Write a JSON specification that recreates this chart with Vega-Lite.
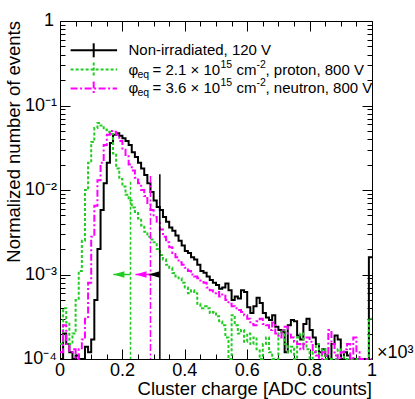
{
  "$schema": "https://vega.github.io/schema/vega-lite/v6.json",
  "width": 312,
  "height": 338,
  "autosize": {"type": "none"},
  "padding": {"left": 60, "top": 21, "right": 43, "bottom": 40},
  "background": "white",
  "config": {"view": {"stroke": null}, "font": "Liberation Sans"},
  "data": {"name": "dummy"},
  "datasets": {
    "dummy": [{"xv":0,"yv":1}],
    "hist": [
      {"s":"n","a":0,"b":0.01,"yv":0.00005},{"s":"n","a":0.01,"b":0.02,"yv":0.0002},{"s":"n","a":0.02,"b":0.03,"yv":0.00015},{"s":"n","a":0.03,"b":0.04,"yv":0.00012},{"s":"n","a":0.04,"b":0.05,"yv":0.00005},
      {"s":"n","a":0.05,"b":0.06,"yv":0.00011},{"s":"n","a":0.06,"b":0.07,"yv":0.00005},{"s":"n","a":0.07,"b":0.08,"yv":0.00005},{"s":"n","a":0.08,"b":0.09,"yv":0.00014},{"s":"n","a":0.09,"b":0.1,"yv":0.00012},
      {"s":"n","a":0.1,"b":0.11,"yv":0.00017},{"s":"n","a":0.11,"b":0.12,"yv":0.0005},{"s":"n","a":0.12,"b":0.13,"yv":0.002},{"s":"n","a":0.13,"b":0.14,"yv":0.0058},{"s":"n","a":0.14,"b":0.15,"yv":0.012},
      {"s":"n","a":0.15,"b":0.16,"yv":0.021},{"s":"n","a":0.16,"b":0.17,"yv":0.036},{"s":"n","a":0.17,"b":0.18,"yv":0.045},{"s":"n","a":0.18,"b":0.19,"yv":0.047},{"s":"n","a":0.19,"b":0.2,"yv":0.044},
      {"s":"n","a":0.2,"b":0.21,"yv":0.041},{"s":"n","a":0.21,"b":0.22,"yv":0.038},{"s":"n","a":0.22,"b":0.23,"yv":0.034},{"s":"n","a":0.23,"b":0.24,"yv":0.028},{"s":"n","a":0.24,"b":0.25,"yv":0.0245},
      {"s":"n","a":0.25,"b":0.26,"yv":0.021},{"s":"n","a":0.26,"b":0.27,"yv":0.018},{"s":"n","a":0.27,"b":0.28,"yv":0.015},{"s":"n","a":0.28,"b":0.29,"yv":0.012},{"s":"n","a":0.29,"b":0.3,"yv":0.0095},
      {"s":"n","a":0.3,"b":0.31,"yv":0.0075},{"s":"n","a":0.31,"b":0.32,"yv":0.0063},{"s":"n","a":0.32,"b":0.33,"yv":0.0058},{"s":"n","a":0.33,"b":0.34,"yv":0.0048},{"s":"n","a":0.34,"b":0.35,"yv":0.0042},
      {"s":"n","a":0.35,"b":0.36,"yv":0.0036},{"s":"n","a":0.36,"b":0.37,"yv":0.0033},{"s":"n","a":0.37,"b":0.38,"yv":0.0029},{"s":"n","a":0.38,"b":0.39,"yv":0.0025},{"s":"n","a":0.39,"b":0.4,"yv":0.0022},
      {"s":"n","a":0.4,"b":0.41,"yv":0.0019},{"s":"n","a":0.41,"b":0.42,"yv":0.0018},{"s":"n","a":0.42,"b":0.43,"yv":0.0016},{"s":"n","a":0.43,"b":0.44,"yv":0.0015},{"s":"n","a":0.44,"b":0.45,"yv":0.0013},
      {"s":"n","a":0.45,"b":0.46,"yv":0.0011},{"s":"n","a":0.46,"b":0.47,"yv":0.00105},{"s":"n","a":0.47,"b":0.48,"yv":0.00095},{"s":"n","a":0.48,"b":0.49,"yv":0.00086},{"s":"n","a":0.49,"b":0.5,"yv":0.0008},
      {"s":"n","a":0.5,"b":0.51,"yv":0.00075},{"s":"n","a":0.51,"b":0.52,"yv":0.00068},{"s":"n","a":0.52,"b":0.53,"yv":0.0007},{"s":"n","a":0.53,"b":0.54,"yv":0.00078},{"s":"n","a":0.54,"b":0.55,"yv":0.00065},
      {"s":"n","a":0.55,"b":0.56,"yv":0.0005},{"s":"n","a":0.56,"b":0.57,"yv":0.00055},{"s":"n","a":0.57,"b":0.58,"yv":0.00052},{"s":"n","a":0.58,"b":0.59,"yv":0.00065},{"s":"n","a":0.59,"b":0.6,"yv":0.00062},
      {"s":"n","a":0.6,"b":0.61,"yv":0.00041},{"s":"n","a":0.61,"b":0.62,"yv":0.00035},{"s":"n","a":0.62,"b":0.63,"yv":0.00042},{"s":"n","a":0.63,"b":0.64,"yv":0.00053},{"s":"n","a":0.64,"b":0.65,"yv":0.00046},
      {"s":"n","a":0.65,"b":0.66,"yv":0.00035},{"s":"n","a":0.66,"b":0.67,"yv":0.00031},{"s":"n","a":0.67,"b":0.68,"yv":0.00029},{"s":"n","a":0.68,"b":0.69,"yv":0.00033},{"s":"n","a":0.69,"b":0.7,"yv":0.00024},
      {"s":"n","a":0.7,"b":0.71,"yv":0.00022},{"s":"n","a":0.71,"b":0.72,"yv":0.00021},{"s":"n","a":0.72,"b":0.73,"yv":0.00012},{"s":"n","a":0.73,"b":0.74,"yv":0.00025},{"s":"n","a":0.74,"b":0.75,"yv":0.00029},
      {"s":"n","a":0.75,"b":0.76,"yv":0.00028},{"s":"n","a":0.76,"b":0.77,"yv":0.00019},{"s":"n","a":0.77,"b":0.78,"yv":0.00017},{"s":"n","a":0.78,"b":0.79,"yv":0.00026},{"s":"n","a":0.79,"b":0.8,"yv":0.0003},
      {"s":"n","a":0.8,"b":0.81,"yv":0.00022},{"s":"n","a":0.81,"b":0.82,"yv":0.00018},{"s":"n","a":0.82,"b":0.83,"yv":0.00015},{"s":"n","a":0.83,"b":0.84,"yv":0.00012},{"s":"n","a":0.84,"b":0.85,"yv":0.00013},
      {"s":"n","a":0.85,"b":0.86,"yv":0.00011},{"s":"n","a":0.86,"b":0.87,"yv":0.00005},{"s":"n","a":0.87,"b":0.88,"yv":0.00015},{"s":"n","a":0.88,"b":0.89,"yv":0.00019},{"s":"n","a":0.89,"b":0.9,"yv":0.00017},
      {"s":"n","a":0.9,"b":0.91,"yv":0.00005},{"s":"n","a":0.91,"b":0.92,"yv":0.00012},{"s":"n","a":0.92,"b":0.93,"yv":0.00011},{"s":"n","a":0.93,"b":0.94,"yv":0.00005},{"s":"n","a":0.94,"b":0.95,"yv":0.00005},
      {"s":"n","a":0.95,"b":0.96,"yv":0.00005},{"s":"n","a":0.96,"b":0.97,"yv":0.00005},{"s":"n","a":0.97,"b":0.98,"yv":0.00005},{"s":"n","a":0.98,"b":0.99,"yv":0.00005},{"s":"n","a":0.99,"b":1,"yv":0.0016},

      {"s":"p","a":0,"b":0.01,"yv":0.00015},{"s":"p","a":0.01,"b":0.02,"yv":0.0004},{"s":"p","a":0.02,"b":0.03,"yv":0.00027},{"s":"p","a":0.03,"b":0.04,"yv":0.00015},{"s":"p","a":0.04,"b":0.05,"yv":0.0002},
      {"s":"p","a":0.05,"b":0.06,"yv":0.0005},{"s":"p","a":0.06,"b":0.07,"yv":0.0011},{"s":"p","a":0.07,"b":0.08,"yv":0.0025},{"s":"p","a":0.08,"b":0.09,"yv":0.01},{"s":"p","a":0.09,"b":0.1,"yv":0.021},
      {"s":"p","a":0.1,"b":0.11,"yv":0.037},{"s":"p","a":0.11,"b":0.12,"yv":0.054},{"s":"p","a":0.12,"b":0.13,"yv":0.062},{"s":"p","a":0.13,"b":0.14,"yv":0.058},{"s":"p","a":0.14,"b":0.15,"yv":0.052},
      {"s":"p","a":0.15,"b":0.16,"yv":0.049},{"s":"p","a":0.16,"b":0.17,"yv":0.046},{"s":"p","a":0.17,"b":0.18,"yv":0.027},{"s":"p","a":0.18,"b":0.19,"yv":0.018},{"s":"p","a":0.19,"b":0.2,"yv":0.0135},
      {"s":"p","a":0.2,"b":0.21,"yv":0.011},{"s":"p","a":0.21,"b":0.22,"yv":0.0088},{"s":"p","a":0.22,"b":0.23,"yv":0.0075},{"s":"p","a":0.23,"b":0.24,"yv":0.0062},{"s":"p","a":0.24,"b":0.25,"yv":0.0055},
      {"s":"p","a":0.25,"b":0.26,"yv":0.0046},{"s":"p","a":0.26,"b":0.27,"yv":0.0038},{"s":"p","a":0.27,"b":0.28,"yv":0.0032},{"s":"p","a":0.28,"b":0.29,"yv":0.0028},{"s":"p","a":0.29,"b":0.3,"yv":0.0026},
      {"s":"p","a":0.3,"b":0.31,"yv":0.0024},{"s":"p","a":0.31,"b":0.32,"yv":0.002},{"s":"p","a":0.32,"b":0.33,"yv":0.0017},{"s":"p","a":0.33,"b":0.34,"yv":0.0015},{"s":"p","a":0.34,"b":0.35,"yv":0.0013},
      {"s":"p","a":0.35,"b":0.36,"yv":0.0012},{"s":"p","a":0.36,"b":0.37,"yv":0.00104},{"s":"p","a":0.37,"b":0.38,"yv":0.00095},{"s":"p","a":0.38,"b":0.39,"yv":0.0009},{"s":"p","a":0.39,"b":0.4,"yv":0.0008},
      {"s":"p","a":0.4,"b":0.41,"yv":0.0007},{"s":"p","a":0.41,"b":0.42,"yv":0.0006},{"s":"p","a":0.42,"b":0.43,"yv":0.00065},{"s":"p","a":0.43,"b":0.44,"yv":0.0006},{"s":"p","a":0.44,"b":0.45,"yv":0.00045},
      {"s":"p","a":0.45,"b":0.46,"yv":0.0004},{"s":"p","a":0.46,"b":0.47,"yv":0.00042},{"s":"p","a":0.47,"b":0.48,"yv":0.0004},{"s":"p","a":0.48,"b":0.49,"yv":0.00035},{"s":"p","a":0.49,"b":0.5,"yv":0.00036},
      {"s":"p","a":0.5,"b":0.51,"yv":0.00032},{"s":"p","a":0.51,"b":0.52,"yv":0.00028},{"s":"p","a":0.52,"b":0.53,"yv":0.00025},{"s":"p","a":0.53,"b":0.54,"yv":0.00018},{"s":"p","a":0.54,"b":0.55,"yv":0.00005},
      {"s":"p","a":0.55,"b":0.56,"yv":0.00033},{"s":"p","a":0.56,"b":0.57,"yv":0.00025},{"s":"p","a":0.57,"b":0.58,"yv":0.0002},{"s":"p","a":0.58,"b":0.59,"yv":0.00022},{"s":"p","a":0.59,"b":0.6,"yv":0.00016},
      {"s":"p","a":0.6,"b":0.61,"yv":0.0002},{"s":"p","a":0.61,"b":0.62,"yv":0.00015},{"s":"p","a":0.62,"b":0.63,"yv":0.00018},{"s":"p","a":0.63,"b":0.64,"yv":0.00013},{"s":"p","a":0.64,"b":0.65,"yv":0.00005},
      {"s":"p","a":0.65,"b":0.66,"yv":0.00015},{"s":"p","a":0.66,"b":0.67,"yv":0.00018},{"s":"p","a":0.67,"b":0.68,"yv":0.00012},{"s":"p","a":0.68,"b":0.69,"yv":0.00005},{"s":"p","a":0.69,"b":0.7,"yv":0.00005},
      {"s":"p","a":0.7,"b":0.71,"yv":0.0002},{"s":"p","a":0.71,"b":0.72,"yv":0.00022},{"s":"p","a":0.72,"b":0.73,"yv":0.00015},{"s":"p","a":0.73,"b":0.74,"yv":0.00012},{"s":"p","a":0.74,"b":0.75,"yv":0.00014},
      {"s":"p","a":0.75,"b":0.76,"yv":0.00005},{"s":"p","a":0.76,"b":0.77,"yv":0.00018},{"s":"p","a":0.77,"b":0.78,"yv":0.0002},{"s":"p","a":0.78,"b":0.79,"yv":0.00015},{"s":"p","a":0.79,"b":0.8,"yv":0.00013},
      {"s":"p","a":0.8,"b":0.81,"yv":0.00005},{"s":"p","a":0.81,"b":0.82,"yv":0.00012},{"s":"p","a":0.82,"b":0.83,"yv":0.00015},{"s":"p","a":0.83,"b":0.84,"yv":0.00011},{"s":"p","a":0.84,"b":0.85,"yv":0.00013},
      {"s":"p","a":0.85,"b":0.86,"yv":0.00005},{"s":"p","a":0.86,"b":0.87,"yv":0.00005},{"s":"p","a":0.87,"b":0.88,"yv":0.00005},{"s":"p","a":0.88,"b":0.89,"yv":0.00005},{"s":"p","a":0.89,"b":0.9,"yv":0.00013},
      {"s":"p","a":0.9,"b":0.91,"yv":0.00012},{"s":"p","a":0.91,"b":0.92,"yv":0.00005},{"s":"p","a":0.92,"b":0.93,"yv":0.00005},{"s":"p","a":0.93,"b":0.94,"yv":0.00005},{"s":"p","a":0.94,"b":0.95,"yv":0.00005},
      {"s":"p","a":0.95,"b":0.96,"yv":0.00005},{"s":"p","a":0.96,"b":0.97,"yv":0.00005},{"s":"p","a":0.97,"b":0.98,"yv":0.00005},{"s":"p","a":0.98,"b":0.99,"yv":0.00005},{"s":"p","a":0.99,"b":1,"yv":0.0003},

      {"s":"m","a":0,"b":0.01,"yv":0.00012},{"s":"m","a":0.01,"b":0.02,"yv":0.00025},{"s":"m","a":0.02,"b":0.03,"yv":0.00015},{"s":"m","a":0.03,"b":0.04,"yv":0.00012},{"s":"m","a":0.04,"b":0.05,"yv":0.00013},
      {"s":"m","a":0.05,"b":0.06,"yv":0.00005},{"s":"m","a":0.06,"b":0.07,"yv":0.00013},{"s":"m","a":0.07,"b":0.08,"yv":0.00017},{"s":"m","a":0.08,"b":0.09,"yv":0.0003},{"s":"m","a":0.09,"b":0.1,"yv":0.0008},
      {"s":"m","a":0.1,"b":0.11,"yv":0.0028},{"s":"m","a":0.11,"b":0.12,"yv":0.0065},{"s":"m","a":0.12,"b":0.13,"yv":0.013},{"s":"m","a":0.13,"b":0.14,"yv":0.021},{"s":"m","a":0.14,"b":0.15,"yv":0.034},
      {"s":"m","a":0.15,"b":0.16,"yv":0.045},{"s":"m","a":0.16,"b":0.17,"yv":0.05},{"s":"m","a":0.17,"b":0.18,"yv":0.049},{"s":"m","a":0.18,"b":0.19,"yv":0.045},{"s":"m","a":0.19,"b":0.2,"yv":0.038},
      {"s":"m","a":0.2,"b":0.21,"yv":0.03},{"s":"m","a":0.21,"b":0.22,"yv":0.025},{"s":"m","a":0.22,"b":0.23,"yv":0.02},{"s":"m","a":0.23,"b":0.24,"yv":0.017},{"s":"m","a":0.24,"b":0.25,"yv":0.014},
      {"s":"m","a":0.25,"b":0.26,"yv":0.012},{"s":"m","a":0.26,"b":0.27,"yv":0.01},{"s":"m","a":0.27,"b":0.28,"yv":0.0085},{"s":"m","a":0.28,"b":0.29,"yv":0.007},{"s":"m","a":0.29,"b":0.3,"yv":0.0058},
      {"s":"m","a":0.3,"b":0.31,"yv":0.0048},{"s":"m","a":0.31,"b":0.32,"yv":0.0042},{"s":"m","a":0.32,"b":0.33,"yv":0.0034},{"s":"m","a":0.33,"b":0.34,"yv":0.0028},{"s":"m","a":0.34,"b":0.35,"yv":0.0024},
      {"s":"m","a":0.35,"b":0.36,"yv":0.0021},{"s":"m","a":0.36,"b":0.37,"yv":0.0018},{"s":"m","a":0.37,"b":0.38,"yv":0.0016},{"s":"m","a":0.38,"b":0.39,"yv":0.0014},{"s":"m","a":0.39,"b":0.4,"yv":0.0013},
      {"s":"m","a":0.4,"b":0.41,"yv":0.0012},{"s":"m","a":0.41,"b":0.42,"yv":0.0011},{"s":"m","a":0.42,"b":0.43,"yv":0.001},{"s":"m","a":0.43,"b":0.44,"yv":0.00095},{"s":"m","a":0.44,"b":0.45,"yv":0.0009},
      {"s":"m","a":0.45,"b":0.46,"yv":0.00085},{"s":"m","a":0.46,"b":0.47,"yv":0.0008},{"s":"m","a":0.47,"b":0.48,"yv":0.0007},{"s":"m","a":0.48,"b":0.49,"yv":0.00065},{"s":"m","a":0.49,"b":0.5,"yv":0.0006},
      {"s":"m","a":0.5,"b":0.51,"yv":0.00062},{"s":"m","a":0.51,"b":0.52,"yv":0.00055},{"s":"m","a":0.52,"b":0.53,"yv":0.00058},{"s":"m","a":0.53,"b":0.54,"yv":0.0005},{"s":"m","a":0.54,"b":0.55,"yv":0.00045},
      {"s":"m","a":0.55,"b":0.56,"yv":0.00042},{"s":"m","a":0.56,"b":0.57,"yv":0.0004},{"s":"m","a":0.57,"b":0.58,"yv":0.00038},{"s":"m","a":0.58,"b":0.59,"yv":0.00036},{"s":"m","a":0.59,"b":0.6,"yv":0.00033},
      {"s":"m","a":0.6,"b":0.61,"yv":0.0003},{"s":"m","a":0.61,"b":0.62,"yv":0.00026},{"s":"m","a":0.62,"b":0.63,"yv":0.00025},{"s":"m","a":0.63,"b":0.64,"yv":0.00028},{"s":"m","a":0.64,"b":0.65,"yv":0.0003},
      {"s":"m","a":0.65,"b":0.66,"yv":0.00026},{"s":"m","a":0.66,"b":0.67,"yv":0.00025},{"s":"m","a":0.67,"b":0.68,"yv":0.00022},{"s":"m","a":0.68,"b":0.69,"yv":0.00027},{"s":"m","a":0.69,"b":0.7,"yv":0.0002},
      {"s":"m","a":0.7,"b":0.71,"yv":0.00018},{"s":"m","a":0.71,"b":0.72,"yv":0.00022},{"s":"m","a":0.72,"b":0.73,"yv":0.00024},{"s":"m","a":0.73,"b":0.74,"yv":0.0002},{"s":"m","a":0.74,"b":0.75,"yv":0.00018},
      {"s":"m","a":0.75,"b":0.76,"yv":0.00016},{"s":"m","a":0.76,"b":0.77,"yv":0.00015},{"s":"m","a":0.77,"b":0.78,"yv":0.00013},{"s":"m","a":0.78,"b":0.79,"yv":0.00015},{"s":"m","a":0.79,"b":0.8,"yv":0.00018},
      {"s":"m","a":0.8,"b":0.81,"yv":0.00016},{"s":"m","a":0.81,"b":0.82,"yv":0.00012},{"s":"m","a":0.82,"b":0.83,"yv":0.00011},{"s":"m","a":0.83,"b":0.84,"yv":0.00005},{"s":"m","a":0.84,"b":0.85,"yv":0.00012},
      {"s":"m","a":0.85,"b":0.86,"yv":0.00011},{"s":"m","a":0.86,"b":0.87,"yv":0.00022},{"s":"m","a":0.87,"b":0.88,"yv":0.00015},{"s":"m","a":0.88,"b":0.89,"yv":0.00011},{"s":"m","a":0.89,"b":0.9,"yv":0.00005},
      {"s":"m","a":0.9,"b":0.91,"yv":0.00012},{"s":"m","a":0.91,"b":0.92,"yv":0.00013},{"s":"m","a":0.92,"b":0.93,"yv":0.00015},{"s":"m","a":0.93,"b":0.94,"yv":0.00005},{"s":"m","a":0.94,"b":0.95,"yv":0.00018},
      {"s":"m","a":0.95,"b":0.96,"yv":0.00012},{"s":"m","a":0.96,"b":0.97,"yv":0.00005},{"s":"m","a":0.97,"b":0.98,"yv":0.00005},{"s":"m","a":0.98,"b":0.99,"yv":0.00005},{"s":"m","a":0.99,"b":1,"yv":0.00005}
    ],
    "cuts": [
      {"s":"n","xv":0.32,"yv":0.0154,"xt":0.284},
      {"s":"p","xv":0.226,"yv":0.0125,"xt":0.171},
      {"s":"m","xv":0.29,"yv":0.0146,"xt":0.242}
    ]
  },
  "layer": [
    {
      "encoding": {
        "x": {"field": "xv", "type": "quantitative", "scale": {"domain": [0, 1], "nice": false, "zero": false}, "axis": null},
        "y": {"field": "yv", "type": "quantitative", "scale": {"type": "log", "domain": [0.0001, 1], "nice": false, "clamp": true}, "axis": null}
      },
      "layer": [
        {
          "data": {"name": "hist"},
          "transform": [{"fold": ["a", "b"], "as": ["edge", "xv"]}],
          "mark": {"type": "line", "strokeWidth": 2},
          "encoding": {
            "color": {"field": "s", "type": "nominal", "scale": {"domain": ["n","p","m"], "range": ["black","#22cc22","#ff00ff"]}, "legend": null},
            "strokeDash": {"field": "s", "type": "nominal", "scale": {"domain": ["n","p","m"], "range": [[1,0],[3,2],[7,2.5,2,2.5]]}, "legend": null},
            "order": [{"field": "xv", "type": "quantitative"}, {"field": "edge", "type": "ordinal", "sort": "descending"}]
          }
        },
        {
          "data": {"name": "cuts"},
          "mark": {"type": "rule", "strokeWidth": 1.5},
          "encoding": {
            "y2": {"datum": 0.0001},
            "color": {"field": "s", "type": "nominal", "legend": null},
            "strokeDash": {"field": "s", "type": "nominal", "legend": null}
          }
        },
        {
          "data": {"name": "cuts"},
          "mark": {"type": "rule", "strokeWidth": 1.5},
          "encoding": {
            "x": {"field": "xt", "type": "quantitative", "axis": null},
            "x2": {"field": "xv"},
            "y": {"datum": 0.001, "axis": null},
            "color": {"field": "s", "type": "nominal", "legend": null}
          }
        },
        {
          "data": {"name": "cuts"},
          "mark": {"type": "point", "shape": "M0,0L2,-0.6L2,0.6Z", "size": 121, "filled": true, "opacity": 1, "strokeWidth": 0},
          "encoding": {
            "x": {"field": "xt", "type": "quantitative", "axis": null},
            "y": {"datum": 0.001, "axis": null},
            "color": {"field": "s", "type": "nominal", "legend": null}
          }
        },
        {
          "encoding": {"x": {"datum": 0, "axis": null}},
          "layer": [
            {"mark": {"type": "text", "align": "right", "baseline": "middle", "fontSize": 18, "color": "black", "dx": -3}, "encoding": {"y": {"datum": 0.0001, "axis": null}, "text": {"value": "10⁻⁴"}}},
            {"mark": {"type": "text", "align": "right", "baseline": "middle", "fontSize": 18, "color": "black", "dx": -3}, "encoding": {"y": {"datum": 0.001, "axis": null}, "text": {"value": "10⁻³"}}},
            {"mark": {"type": "text", "align": "right", "baseline": "middle", "fontSize": 18, "color": "black", "dx": -3}, "encoding": {"y": {"datum": 0.01, "axis": null}, "text": {"value": "10⁻²"}}},
            {"mark": {"type": "text", "align": "right", "baseline": "middle", "fontSize": 18, "color": "black", "dx": -3}, "encoding": {"y": {"datum": 0.1, "axis": null}, "text": {"value": "10⁻¹"}}},
            {"mark": {"type": "text", "align": "right", "baseline": "middle", "fontSize": 18, "color": "black", "dx": -6}, "encoding": {"y": {"datum": 1, "axis": null}, "text": {"value": "1"}}}
          ]
        },
        {
          "encoding": {"y": {"datum": 0.0001, "axis": null}},
          "layer": [
            {"mark": {"type": "text", "align": "center", "baseline": "top", "fontSize": 18, "color": "black", "dy": 3}, "encoding": {"x": {"datum": 0, "axis": null}, "text": {"value": "0"}}},
            {"mark": {"type": "text", "align": "center", "baseline": "top", "fontSize": 18, "color": "black", "dy": 3}, "encoding": {"x": {"datum": 0.2, "axis": null}, "text": {"value": "0.2"}}},
            {"mark": {"type": "text", "align": "center", "baseline": "top", "fontSize": 18, "color": "black", "dy": 3}, "encoding": {"x": {"datum": 0.4, "axis": null}, "text": {"value": "0.4"}}},
            {"mark": {"type": "text", "align": "center", "baseline": "top", "fontSize": 18, "color": "black", "dy": 3}, "encoding": {"x": {"datum": 0.6, "axis": null}, "text": {"value": "0.6"}}},
            {"mark": {"type": "text", "align": "center", "baseline": "top", "fontSize": 18, "color": "black", "dy": 3}, "encoding": {"x": {"datum": 0.8, "axis": null}, "text": {"value": "0.8"}}},
            {"mark": {"type": "text", "align": "center", "baseline": "top", "fontSize": 18, "color": "black", "dy": 3}, "encoding": {"x": {"datum": 1, "axis": null}, "text": {"value": "1"}}}
          ]
        },
        {
          "mark": {"type": "text", "align": "right", "baseline": "alphabetic", "fontSize": 18.5, "color": "black", "dy": 36},
          "encoding": {"x": {"datum": 1, "axis": null}, "y": {"datum": 0.0001, "axis": null}, "text": {"value": "Cluster charge [ADC counts]"}}
        },
        {
          "mark": {"type": "text", "align": "right", "baseline": "alphabetic", "fontSize": 18.5, "color": "black", "angle": 270, "dy": -40},
          "encoding": {"x": {"datum": 0, "axis": null}, "y": {"datum": 1, "axis": null}, "text": {"value": "Normalized number of events"}}
        },
        {
          "encoding": {"y": {"datum": 0.45, "axis": null}},
          "layer": [
            {"mark": {"type": "rule", "strokeWidth": 2, "color": "black"}, "encoding": {"x": {"datum": 0.034, "axis": null}, "x2": {"datum": 0.183}}},
            {"mark": {"type": "point", "shape": "M0,-1L0,1", "size": 196, "strokeWidth": 2, "filled": false, "opacity": 1, "color": "black"}, "encoding": {"x": {"datum": 0.108, "axis": null}}},
            {"mark": {"type": "text", "align": "left", "baseline": "middle", "fontSize": 15, "color": "black"}, "encoding": {"x": {"datum": 0.2196, "axis": null}, "text": {"value": "Non-irradiated, 120 V"}}}
          ]
        },
        {
          "encoding": {"y": {"datum": 0.266, "axis": null}},
          "layer": [
            {"mark": {"type": "rule", "strokeWidth": 2, "color": "#22cc22", "strokeDash": [3,2]}, "encoding": {"x": {"datum": 0.034, "axis": null}, "x2": {"datum": 0.183}}},
            {"mark": {"type": "point", "shape": "M0,-1L0,1", "size": 196, "strokeWidth": 2, "filled": false, "opacity": 1, "color": "#22cc22", "strokeDash": [3,2]}, "encoding": {"x": {"datum": 0.108, "axis": null}}},
            {"mark": {"type": "text", "align": "left", "baseline": "middle", "fontSize": 15, "color": "black"}, "encoding": {"x": {"datum": 0.2196, "axis": null}, "text": {"value": "φ"}}},
            {"mark": {"type": "text", "align": "left", "baseline": "middle", "fontSize": 10.5, "color": "black", "dx": 9, "dy": 5}, "encoding": {"x": {"datum": 0.2196, "axis": null}, "text": {"value": "eq"}}},
            {"mark": {"type": "text", "align": "left", "baseline": "middle", "fontSize": 15, "color": "black", "dx": 24}, "encoding": {"x": {"datum": 0.2196, "axis": null}, "text": {"value": "= 2.1 × 10"}}},
            {"mark": {"type": "text", "align": "left", "baseline": "middle", "fontSize": 10.5, "color": "black", "dx": 92, "dy": -5}, "encoding": {"x": {"datum": 0.2196, "axis": null}, "text": {"value": "15"}}},
            {"mark": {"type": "text", "align": "left", "baseline": "middle", "fontSize": 15, "color": "black", "dx": 108}, "encoding": {"x": {"datum": 0.2196, "axis": null}, "text": {"value": "cm"}}},
            {"mark": {"type": "text", "align": "left", "baseline": "middle", "fontSize": 10.5, "color": "black", "dx": 128, "dy": -5}, "encoding": {"x": {"datum": 0.2196, "axis": null}, "text": {"value": "-2"}}},
            {"mark": {"type": "text", "align": "left", "baseline": "middle", "fontSize": 15, "color": "black", "dx": 137}, "encoding": {"x": {"datum": 0.2196, "axis": null}, "text": {"value": ", proton, 800 V"}}}
          ]
        },
        {
          "encoding": {"y": {"datum": 0.159, "axis": null}},
          "layer": [
            {"mark": {"type": "rule", "strokeWidth": 2, "color": "#ff00ff", "strokeDash": [7,2.5,2,2.5]}, "encoding": {"x": {"datum": 0.034, "axis": null}, "x2": {"datum": 0.183}}},
            {"mark": {"type": "point", "shape": "M0,-1L0,1", "size": 196, "strokeWidth": 2, "filled": false, "opacity": 1, "color": "#ff00ff", "strokeDash": [7,2.5,2,2.5]}, "encoding": {"x": {"datum": 0.108, "axis": null}}},
            {"mark": {"type": "text", "align": "left", "baseline": "middle", "fontSize": 15, "color": "black"}, "encoding": {"x": {"datum": 0.2196, "axis": null}, "text": {"value": "φ"}}},
            {"mark": {"type": "text", "align": "left", "baseline": "middle", "fontSize": 10.5, "color": "black", "dx": 9, "dy": 5}, "encoding": {"x": {"datum": 0.2196, "axis": null}, "text": {"value": "eq"}}},
            {"mark": {"type": "text", "align": "left", "baseline": "middle", "fontSize": 15, "color": "black", "dx": 24}, "encoding": {"x": {"datum": 0.2196, "axis": null}, "text": {"value": "= 3.6 × 10"}}},
            {"mark": {"type": "text", "align": "left", "baseline": "middle", "fontSize": 10.5, "color": "black", "dx": 92, "dy": -5}, "encoding": {"x": {"datum": 0.2196, "axis": null}, "text": {"value": "15"}}},
            {"mark": {"type": "text", "align": "left", "baseline": "middle", "fontSize": 15, "color": "black", "dx": 108}, "encoding": {"x": {"datum": 0.2196, "axis": null}, "text": {"value": "cm"}}},
            {"mark": {"type": "text", "align": "left", "baseline": "middle", "fontSize": 10.5, "color": "black", "dx": 128, "dy": -5}, "encoding": {"x": {"datum": 0.2196, "axis": null}, "text": {"value": "-2"}}},
            {"mark": {"type": "text", "align": "left", "baseline": "middle", "fontSize": 15, "color": "black", "dx": 137}, "encoding": {"x": {"datum": 0.2196, "axis": null}, "text": {"value": ", neutron, 800 V"}}}
          ]
        },
        {
          "mark": {"type": "text", "align": "left", "baseline": "alphabetic", "fontSize": 18, "color": "black", "dx": 5, "dy": -1},
          "encoding": {"x": {"datum": 1, "axis": null}, "y": {"datum": 0.0001, "axis": null}, "text": {"value": "×10³"}}
        }
      ]
    },
    {
      "mark": {"type": "point", "opacity": 0},
      "encoding": {
        "x": {
          "field": "xv", "type": "quantitative",
          "scale": {"domain": [0, 1], "nice": false, "zero": false},
          "axis": {
            "orient": "top", "labels": false, "title": null, "grid": false,
            "values": [0,0.05,0.1,0.15,0.2,0.25,0.3,0.35,0.4,0.45,0.5,0.55,0.6,0.65,0.7,0.75,0.8,0.85,0.9,0.95,1],
            "tickSize": {"condition": {"test": "datum.value == 0 || datum.value == 0.2 || datum.value == 0.4 || datum.value == 0.6 || datum.value == 0.8 || datum.value == 1", "value": -10}, "value": -5},
            "tickColor": "black", "tickWidth": 1, "domainColor": "black", "domainWidth": 1
          }
        },
        "y": {
          "field": "yv", "type": "quantitative",
          "scale": {"type": "log", "domain": [0.0001, 1], "nice": false, "clamp": true},
          "axis": {
            "orient": "right", "labels": false, "title": null, "grid": false,
            "values": [0.0001,0.0002,0.0003,0.0004,0.0005,0.0006,0.0007,0.0008,0.0009,0.001,0.002,0.003,0.004,0.005,0.006,0.007,0.008,0.009,0.01,0.02,0.03,0.04,0.05,0.06,0.07,0.08,0.09,0.1,0.2,0.3,0.4,0.5,0.6,0.7,0.8,0.9,1],
            "tickSize": {"condition": {"test": "datum.value == 1 || datum.value == 0.1 || datum.value == 0.01 || datum.value == 0.001 || datum.value == 0.0001", "value": -10}, "value": -5},
            "tickColor": "black", "tickWidth": 1, "domainColor": "black", "domainWidth": 1
          }
        }
      }
    },
    {
      "mark": {"type": "point", "opacity": 0},
      "encoding": {
        "x": {
          "field": "xv", "type": "quantitative",
          "scale": {"domain": [0, 1], "nice": false, "zero": false},
          "axis": {
            "orient": "bottom", "labels": false, "title": null, "grid": false,
            "values": [0,0.05,0.1,0.15,0.2,0.25,0.3,0.35,0.4,0.45,0.5,0.55,0.6,0.65,0.7,0.75,0.8,0.85,0.9,0.95,1],
            "tickSize": {"condition": {"test": "datum.value == 0 || datum.value == 0.2 || datum.value == 0.4 || datum.value == 0.6 || datum.value == 0.8 || datum.value == 1", "value": -10}, "value": -5},
            "tickColor": "black", "tickWidth": 1, "domainColor": "black", "domainWidth": 1
          }
        },
        "y": {
          "field": "yv", "type": "quantitative",
          "scale": {"type": "log", "domain": [0.0001, 1], "nice": false, "clamp": true},
          "axis": {
            "orient": "left", "labels": false, "title": null, "grid": false,
            "values": [0.0001,0.0002,0.0003,0.0004,0.0005,0.0006,0.0007,0.0008,0.0009,0.001,0.002,0.003,0.004,0.005,0.006,0.007,0.008,0.009,0.01,0.02,0.03,0.04,0.05,0.06,0.07,0.08,0.09,0.1,0.2,0.3,0.4,0.5,0.6,0.7,0.8,0.9,1],
            "tickSize": {"condition": {"test": "datum.value == 1 || datum.value == 0.1 || datum.value == 0.01 || datum.value == 0.001 || datum.value == 0.0001", "value": -10}, "value": -5},
            "tickColor": "black", "tickWidth": 1, "domainColor": "black", "domainWidth": 1
          }
        }
      }
    }
  ],
  "resolve": {"axis": {"x": "independent", "y": "independent"}}
}
